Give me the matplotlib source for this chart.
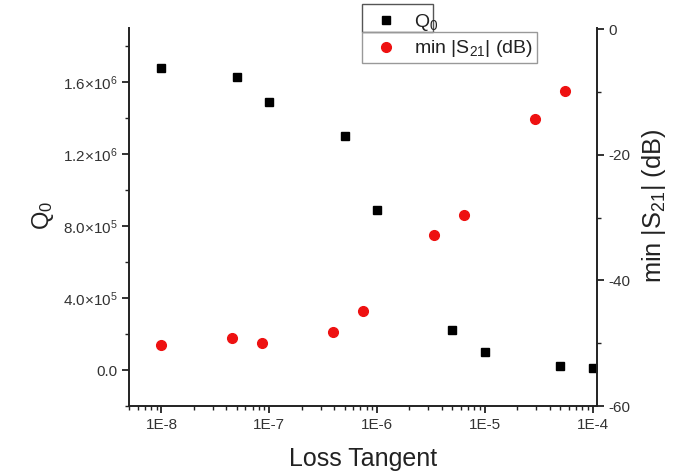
import matplotlib
matplotlib.use("Agg")
import matplotlib.pyplot as plt
from matplotlib.ticker import FixedLocator, FuncFormatter, LogLocator, NullFormatter
from matplotlib.lines import Line2D
from matplotlib.patches import Rectangle

plt.rcParams['font.family'] = ['Liberation Sans', 'DejaVu Sans']
plt.rcParams['mathtext.fontset'] = 'custom'
plt.rcParams['mathtext.rm'] = 'Liberation Sans'
plt.rcParams['mathtext.it'] = 'Liberation Sans:italic'
plt.rcParams['mathtext.bf'] = 'Liberation Sans:bold'
plt.rcParams['axes.unicode_minus'] = False

# Quality factor versus loss tangent
q0_tan = [1e-8, 5e-8, 1e-7, 5e-7, 1e-6, 5e-6, 1e-5, 5e-5, 1e-4]
q0_vals = [1.68e6, 1.63e6, 1.49e6, 1.30e6, 8.9e5, 2.2e5, 1.0e5, 2.0e4, 1.0e4]

# Minimum transmission (dB) versus loss tangent
s21_tan = [1e-8, 4.5e-8, 8.6e-8, 3.9e-7, 7.4e-7, 3.4e-6, 6.4e-6, 2.9e-5, 5.5e-5]
s21_vals = [-50.3, -49.2, -50.0, -48.2, -44.8, -32.7, -29.6, -14.3, -9.8]

x_ticks = [1e-8, 1e-7, 1e-6, 1e-5, 1e-4]
x_tick_labels = ['1E-8', '1E-7', '1E-6', '1E-5', '1E-4']
q_ticks = [0.0, 4.0e5, 8.0e5, 1.2e6, 1.6e6]
q_tick_labels = [r'0.0', r'$4.0{\times}10^{5}$', r'$8.0{\times}10^{5}$',
                 r'$1.2{\times}10^{6}$', r'$1.6{\times}10^{6}$']
s_ticks = [-60, -40, -20, 0]

W, H = 676, 472
fig = plt.figure(figsize=(W / 100, H / 100), dpi=100)
ax = fig.add_axes([129 / W, 1 - 406 / H, (597 - 129) / W, (406 - 28) / H])
ax2 = ax.twinx()

tick_color = '#333333'
for a in (ax, ax2):
    for s in a.spines.values():
        s.set_linewidth(1.4)
        s.set_color('#222222')
    a.spines['top'].set_visible(False)

ax.spines['right'].set_visible(False)
ax2.spines['left'].set_visible(False)
ax2.spines['bottom'].set_visible(False)

ax.plot(q0_tan, q0_vals, linestyle='none', marker='s', markersize=6.2,
        color='black', zorder=3)
ax2.plot(s21_tan, s21_vals, linestyle='none', marker='o', markersize=7,
         color='#ee1111', markeredgecolor='#ee1111', zorder=3)

ax.set_xscale('log')
ax.set_xlim(5e-9, 1.1e-4)
ax.set_ylim(-2.0e5, 1.9e6)
ax2.set_ylim(-60, 0.2)

ax.xaxis.set_major_locator(FixedLocator(x_ticks))
ax.xaxis.set_major_formatter(FuncFormatter(
    lambda v, p: x_tick_labels[x_ticks.index(v)] if v in x_ticks else ''))
ax.xaxis.set_minor_locator(LogLocator(base=10, subs=range(2, 10), numticks=20))
ax.xaxis.set_minor_formatter(NullFormatter())

ax.yaxis.set_major_locator(FixedLocator(q_ticks))
ax.yaxis.set_major_formatter(FuncFormatter(
    lambda v, p: q_tick_labels[q_ticks.index(v)] if v in q_ticks else ''))
ax.yaxis.set_minor_locator(FixedLocator([-2e5, 2e5, 6e5, 1.0e6, 1.4e6, 1.8e6]))

ax2.yaxis.set_major_locator(FixedLocator(s_ticks))
ax2.yaxis.set_minor_locator(FixedLocator([-50, -30, -10]))

for a in (ax, ax2):
    a.tick_params(which='major', direction='out', length=5, width=1.3,
                  labelsize=11, labelcolor=tick_color, color='#222222')
    a.tick_params(which='minor', direction='out', length=3, width=1.0,
                  color='#222222')

ax.set_xlabel('Loss Tangent', fontsize=18, color='#222222')
ax.xaxis.set_label_coords(0.5, -41 / 378, transform=ax.transAxes)
ax.set_ylabel(r'Q$_0$', fontsize=17, color='#222222')
ax.yaxis.set_label_coords(-73 / 468, (406 - 215) / 378, transform=ax.transAxes)
ax2.set_ylabel(r'min |S$_{21}$| (dB)', fontsize=18.3, color='#222222')
ax2.yaxis.set_label_coords(1 + 43 / 468, (406 - 206) / 378, transform=ax.transAxes)

# Legend with two stacked frames
handles = [
    Line2D([], [], linestyle='none', marker='s', markersize=6, color='black'),
    Line2D([], [], linestyle='none', marker='o', markersize=7, color='#ee1111'),
]
labels = [r'Q$_0$', r'min |S$_{21}$| (dB)']
leg = fig.legend(handles, labels, loc='upper left',
                 bbox_to_anchor=(370 / W, 1 - 8 / H), frameon=False,
                 fontsize=14, handletextpad=0.85, labelspacing=0.28,
                 handlelength=1.2, borderaxespad=0, borderpad=0.2)
for t in leg.get_texts():
    t.set_color('#222222')

fig.patches.append(Rectangle((362 / W, 1 - 63 / H), (537 - 362) / W, 31 / H,
                             transform=fig.transFigure, fill=False,
                             edgecolor='#999999', linewidth=1.0))
fig.patches.append(Rectangle((362 / W, 1 - 32 / H), (433 - 362) / W, 28 / H,
                             transform=fig.transFigure, facecolor='white',
                             edgecolor='#555555', linewidth=1.0, zorder=0))

fig.savefig('out.png', dpi=100)
